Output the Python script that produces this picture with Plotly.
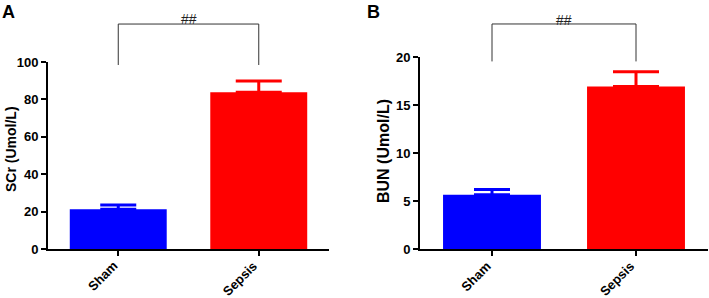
import plotly.graph_objects as go

categories = ["Sham", "Sepsis"]
scr_mean = [21.2, 83.8]
scr_err = [2.3, 6.0]
bun_mean = [5.64, 16.94]
bun_err = [0.55, 1.53]
colors = ["#0000FF", "#FF0000"]
cap_half = [18, 23]

FONT = "Arial, 'Liberation Sans', sans-serif"
W, H = 709, 298

fig = go.Figure()

for i, c in enumerate(categories):
    fig.add_trace(go.Bar(
        x=[c], y=[scr_mean[i]], marker=dict(color=colors[i], line=dict(width=0)),
        width=0.69,
        error_y=dict(type="data", array=[scr_err[i]], arrayminus=[0], symmetric=False,
                     color=colors[i], thickness=3, width=cap_half[i]),
        xaxis="x", yaxis="y", showlegend=False))
    fig.add_trace(go.Bar(
        x=[c], y=[bun_mean[i]], marker=dict(color=colors[i], line=dict(width=0)),
        width=0.68,
        error_y=dict(type="data", array=[bun_err[i]], arrayminus=[0], symmetric=False,
                     color=colors[i], thickness=3, width=cap_half[i]),
        xaxis="x2", yaxis="y2", showlegend=False))

axis_common = dict(showline=True, linecolor="black", linewidth=2, ticks="outside",
                   ticklen=5, tickwidth=2, tickcolor="black", showgrid=False,
                   zeroline=False, automargin=False,
                   tickfont=dict(family=FONT, size=13, color="black", weight="bold"))

fig.update_layout(
    width=W, height=H, margin=dict(l=0, r=0, t=0, b=0),
    plot_bgcolor="white", paper_bgcolor="white", barmode="overlay",
    xaxis=dict(domain=[48/W, 329/W], range=[-0.5, 1.5], showticklabels=False,
               anchor="y", **axis_common),
    yaxis=dict(domain=[49/H, 236/H], range=[0, 100], tickvals=[0, 20, 40, 60, 80, 100],
               anchor="x", **axis_common),
    xaxis2=dict(domain=[420/W, 708/W], range=[-0.5, 1.5], showticklabels=False,
                anchor="y2", **axis_common),
    yaxis2=dict(domain=[49/H, 241/H], range=[0, 20], tickvals=[0, 5, 10, 15, 20],
                anchor="x2", **axis_common),
)

# y-axis titles
fig.add_annotation(x=11/W, y=1 - 149/H, xref="paper", yref="paper", text="SCr (Umol/L)",
                   showarrow=False, textangle=-90, xanchor="center", yanchor="middle",
                   font=dict(family=FONT, size=14, color="black", weight="bold"))
fig.add_annotation(x=383/W, y=1 - 151/H, xref="paper", yref="paper", text="BUN (Umol/L)",
                   showarrow=False, textangle=-90, xanchor="center", yanchor="middle",
                   font=dict(family=FONT, size=16, color="black", weight="bold"))

# rotated category labels
for xr, yr in [("x", "y domain"), ("x2", "y2 domain")]:
    for c in categories:
        fig.add_annotation(x=c, y=0, xref=xr, yref=yr, text=c, showarrow=False,
                           textangle=-45, xanchor="right", yanchor="top",
                           xshift=3, yshift=-8, borderpad=0,
                           font=dict(family=FONT, size=13, color="black", weight="bold"))

# significance brackets
for xr, yr, top, leg, ty in [("x", "y domain", 1.203, 0.984, 1.283),
                             ("x2", "y2 domain", 1.172, 0.977, 1.245)]:
    fig.add_shape(type="path", xref=xr, yref=yr,
                  path=f"M 0 {leg} L 0 {top} L 1 {top} L 1 {leg}",
                  line=dict(color="#333333", width=1))
    fig.add_annotation(x=0.5, y=ty, xref=xr, yref=yr, text="##", showarrow=False,
                       font=dict(family=FONT, size=14, color="#222222"))

# panel letters
fig.add_annotation(x=8.5/W, y=1 - 12/H, xref="paper", yref="paper", text="A",
                   showarrow=False, xanchor="center", yanchor="middle",
                   font=dict(family=FONT, size=18, color="black", weight="bold"))
fig.add_annotation(x=374/W, y=1 - 12/H, xref="paper", yref="paper", text="B",
                   showarrow=False, xanchor="center", yanchor="middle",
                   font=dict(family=FONT, size=18, color="black", weight="bold"))

fig.write_html("out.html", config={"displayModeBar": False},
               post_script="document.body.style.margin='0';document.body.style.overflow='hidden';")
